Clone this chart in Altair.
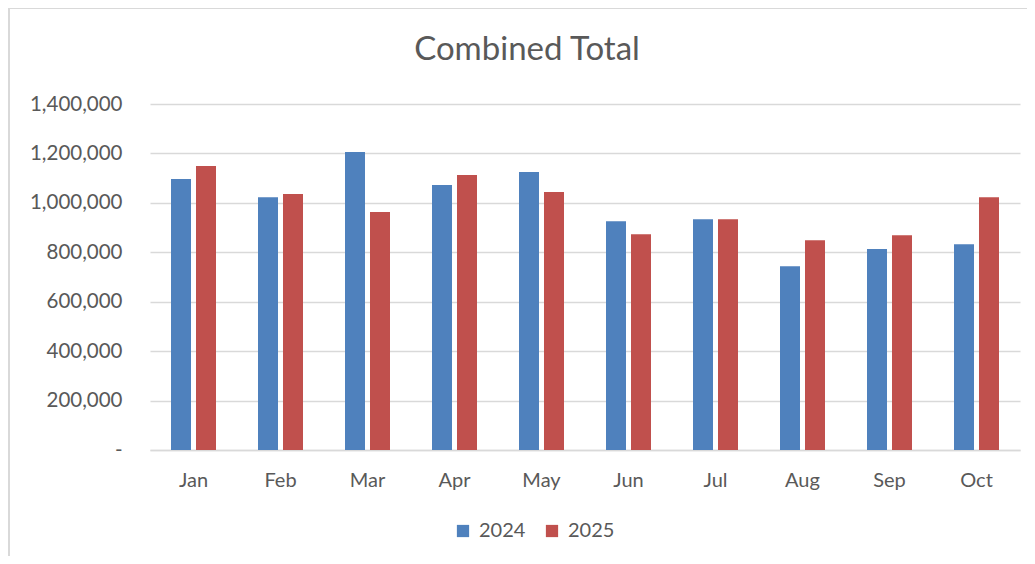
import altair as alt
import pandas as pd

months = ["Jan", "Feb", "Mar", "Apr", "May", "Jun", "Jul", "Aug", "Sep", "Oct"]
values_2024 = [1097000, 1023000, 1206000, 1072000, 1125000, 926000, 934000, 744000, 813000, 833000]
values_2025 = [1149000, 1036000, 963000, 1113000, 1044000, 873000, 934000, 849000, 869000, 1023000]
years = ["2024", "2025"]
colors = ["#4F81BD", "#C0504D"]
y_ticks = [0, 200000, 400000, 600000, 800000, 1000000, 1200000, 1400000]
title_text = "Combined Total"

rows = []
for i, m in enumerate(months):
    rows.append({"Month": m, "Year": years[0], "Value": values_2024[i]})
    rows.append({"Month": m, "Year": years[1], "Value": values_2025[i]})
df = pd.DataFrame(rows)

FONT = "Lato"
GREY = "#595959"

bars = alt.Chart(df).mark_bar().encode(
    x=alt.X("Month:N", sort=months,
            scale=alt.Scale(paddingInner=0.4828, paddingOuter=0.2414),
            axis=alt.Axis(title=None, labelAngle=0, ticks=False, grid=False,
                          domainColor="#d9d9d9", domainWidth=1.3,
                          labelFontSize=20, labelColor=GREY, labelFont=FONT, labelPadding=20)),
    xOffset=alt.XOffset("Year:N", scale=alt.Scale(paddingInner=0.2, paddingOuter=0)),
    y=alt.Y("Value:Q", scale=alt.Scale(domain=[0, 1400000], nice=False),
            axis=alt.Axis(title=None, values=y_ticks, ticks=False, domain=False,
                          gridColor="#d9d9d9", gridWidth=1.3,
                          labelExpr="datum.value == 0 ? '-' : format(datum.value, ',')",
                          labelFontSize=20.5, labelColor=GREY, labelFont=FONT, labelPadding=28)),
    color=alt.Color("Year:N", scale=alt.Scale(domain=years, range=colors),
                    legend=alt.Legend(title=None, orient="none", direction="horizontal",
                                      legendX=303, legendY=417, symbolType="square",
                                      symbolSize=150, symbolStrokeWidth=0, labelFontSize=20,
                                      labelColor=GREY, labelFont=FONT, columnPadding=16,
                                      labelOffset=6)),
)

one = pd.DataFrame({"k": [0]})
frame_v = alt.Chart(one).mark_rule(color="#d9d9d9", strokeWidth=2).encode(
    x=alt.value(-141), y=alt.value(-96), y2=alt.value(470))
frame_h = alt.Chart(one).mark_rule(color="#d9d9d9", strokeWidth=2).encode(
    x=alt.value(-142), x2=alt.value(890), y=alt.value(-96))
title = alt.Chart(one).mark_text(font=FONT, fontSize=33, color=GREY, align="center",
                                 baseline="middle").encode(
    x=alt.value(377), y=alt.value(-54), text=alt.value(title_text))

chart = alt.layer(frame_v, frame_h, title, bars).properties(
    width=870,
    height=346,
    view=alt.ViewBackground(strokeWidth=0, strokeOpacity=0),
    autosize=alt.AutoSizeParams(type="none"),
    padding={"left": 142, "top": 96, "right": 7, "bottom": 106},
).configure_view(strokeWidth=0, strokeOpacity=0).configure(background="white")

chart.save("out.html", embed_options={"renderer": "svg", "actions": False})
